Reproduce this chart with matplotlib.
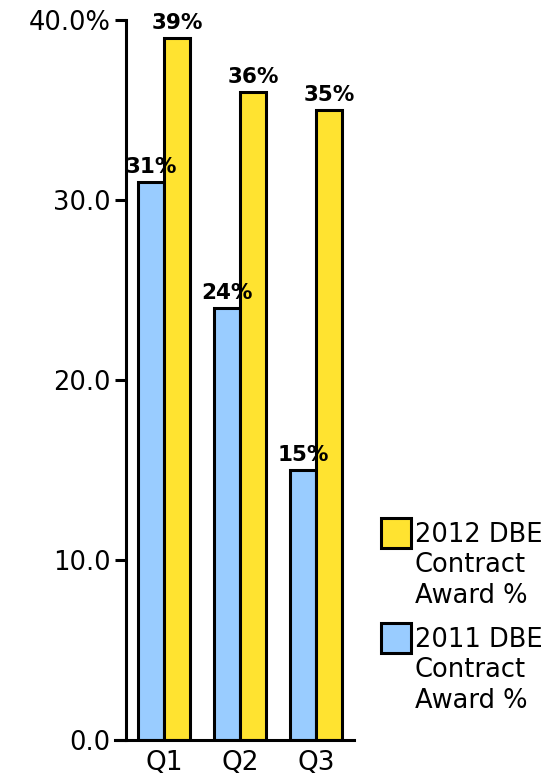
import matplotlib
matplotlib.use("Agg")
import matplotlib.pyplot as plt
import numpy as np
from matplotlib.patches import Rectangle

quarters = ["Q1", "Q2", "Q3"]
values_2011 = [31, 24, 15]
values_2012 = [39, 36, 35]
labels_2011 = ["31%", "24%", "15%"]
labels_2012 = ["39%", "36%", "35%"]
yticks = [0, 10, 20, 30, 40]
ytick_labels = ["0.0", "10.0", "20.0", "30.0", "40.0%"]
legend_labels = ["2012 DBE\nContract\nAward %", "2011 DBE\nContract\nAward %"]

c2011 = "#99CCFF"
c2012 = "#FFE330"

W, H = 559, 779
fig = plt.figure(figsize=(W/100, H/100), dpi=100)
ax = fig.add_axes([126/W, 1-740/H, (354-126)/W, (740-20)/H])

x = np.arange(len(quarters))
w = 0.34
ax.bar(x - w/2, values_2011, w, color=c2011, edgecolor="black", linewidth=2.2, zorder=3)
ax.bar(x + w/2, values_2012, w, color=c2012, edgecolor="black", linewidth=2.2, zorder=3)

for xi, v, l in zip(x - w/2, values_2011, labels_2011):
    ax.text(xi, v + 0.3, l, ha="center", va="bottom", fontsize=15.5, fontweight="bold", zorder=5)
for xi, v, l in zip(x + w/2, values_2012, labels_2012):
    ax.text(xi, v + 0.3, l, ha="center", va="bottom", fontsize=15.5, fontweight="bold", zorder=5)

ax.set_xlim(-0.5, 2.5)
ax.set_ylim(0, 40)
ax.set_yticks(yticks)
ax.set_yticklabels(ytick_labels, fontsize=18.5)
ax.set_xticks(x)
ax.set_xticklabels(quarters, fontsize=19)
ax.tick_params(axis="x", length=0, pad=7)
ax.tick_params(axis="y", length=8, width=2.2, pad=3)
for s in ["top", "right"]:
    ax.spines[s].set_visible(False)
for s in ["left", "bottom"]:
    ax.spines[s].set_linewidth(2.2)
ax.spines["bottom"].set_bounds(-0.5 - 11/76, 2.5)
ax.spines["bottom"].set_zorder(6)

# manual legend (box aligned with first line of text)
colors = [c2012, c2011]
box_tops = [518, 623]
for col, top, lab in zip(colors, box_tops, legend_labels):
    fig.add_artist(Rectangle((381/W, 1-(top+30)/H), 30/W, 30/H, transform=fig.transFigure,
                             facecolor=col, edgecolor="black", linewidth=2.2))
    fig.text(415/W, 1-(top+4)/H, lab, ha="left", va="top", fontsize=18.5, linespacing=1.22)

fig.savefig("out.png", dpi=100)
